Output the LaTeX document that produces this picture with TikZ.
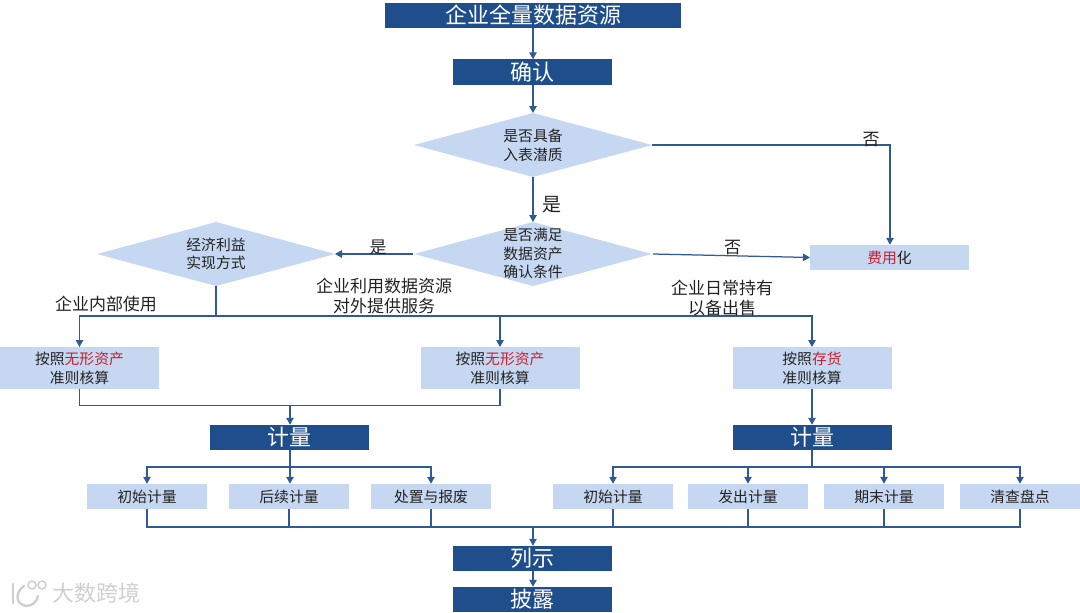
\documentclass[tikz,border=0pt]{standalone}
\usepackage{fontspec}
\setmainfont{Noto Sans CJK SC}
\usetikzlibrary{shapes.geometric,arrows.meta}
\definecolor{navy}{HTML}{1F4E8C}
\definecolor{pale}{HTML}{C6D8F1}
\definecolor{wire}{HTML}{2F5A96}
\definecolor{redtxt}{HTML}{C8202F}
\definecolor{ink}{HTML}{222222}
\definecolor{mark}{HTML}{CFCFCF}
\newcommand{\rd}[1]{\textcolor{redtxt}{#1}}
\tikzset{
  x=1pt,y=-1pt,
  darkbox/.style={rectangle,fill=navy,text=white,inner sep=0pt,outer sep=0pt,minimum width=159pt,minimum height=25.5pt,font=\fontsize{22}{24}\selectfont},
  palebox/.style={rectangle,fill=pale,text=ink,inner sep=0pt,outer sep=0pt,minimum width=159pt,minimum height=42pt,align=center,font=\fontsize{14.8}{19}\selectfont},
  smallbox/.style={rectangle,fill=pale,text=ink,inner sep=0pt,outer sep=0pt,minimum width=120pt,minimum height=25.5pt,font=\fontsize{14.8}{18}\selectfont},
  dia/.style={diamond,fill=pale,inner sep=0pt,outer sep=0pt,minimum width=238pt,minimum height=64pt},
  diatext/.style={inner sep=0pt,text=ink,align=center,font=\fontsize{14.8}{18.5}\selectfont},
  lab/.style={inner sep=0pt,text=ink,align=center,font=\fontsize{17}{20}\selectfont},
  wireline/.style={draw=wire,line width=1.25pt},
  arrowline/.style={wireline,-{Triangle[length=7pt,width=7.5pt]}},
}
\begin{document}
\begin{tikzpicture}
\useasboundingbox (0,0) rectangle (1080,613);
% watermark
\begin{scope}[draw=mark,line width=2.4pt,line cap=round]
  \draw (13,584) -- (13,603);
  \draw (24,586) .. controls (15,592) and (15,604) .. (26,606) .. controls (33,606) and (37,601) .. (38,596);
  \draw[line width=1.5pt] (32,585) circle[radius=4];
  \draw[line width=1.5pt] (42,585) circle[radius=4];
\end{scope}
\node[inner sep=0pt,text=mark,font=\fontsize{22}{24}\selectfont] (wm) at (96.5,593) {大数跨境};
% boxes
\node[darkbox,minimum width=296pt] (top) at (533,15.5) {企业全量数据资源};
\node[darkbox] (confirm) at (532.5,72) {确认};
\node[dia] (d1) at (533,145) {};
\node[diatext] (d1t) at (533,145.5) {是否具备\\入表潜质};
\node[dia] (d2) at (533,254) {};
\node[diatext] (d2t) at (533,253.5) {是否满足\\数据资产\\确认条件};
\node[dia] (d3) at (216,254) {};
\node[diatext] (d3t) at (216,254) {经济利益\\实现方式};
\node[smallbox,minimum width=159pt] (fee) at (889.5,257.5) {\rd{费用}化};
\node[palebox] (a1) at (79.5,368) {按照\rd{无形资产}\\准则核算};
\node[palebox] (a2) at (500,368) {按照\rd{无形资产}\\准则核算};
\node[palebox] (a3) at (812,368) {按照\rd{存货}\\准则核算};
\node[darkbox] (m1) at (289.5,437.5) {计量};
\node[darkbox] (m2) at (812,437.5) {计量};
\node[smallbox] (s1) at (147,496.5) {初始计量};
\node[smallbox] (s2) at (289,496.5) {后续计量};
\node[smallbox] (s3) at (431,496.5) {处置与报废};
\node[smallbox] (s4) at (613,496.5) {初始计量};
\node[smallbox] (s5) at (748,496.5) {发出计量};
\node[smallbox] (s6) at (884,496.5) {期末计量};
\node[smallbox] (s7) at (1020,496.5) {清查盘点};
\node[darkbox] (list) at (532.5,558.5) {列示};
\node[darkbox] (disc) at (532.5,599.5) {披露};
% junctions
\coordinate (busA) at (216,316);
\coordinate (busB) at (290,405.5);
\coordinate (busC) at (290,467);
\coordinate (busD) at (812,467);
\coordinate (busE) at (533,527);
\coordinate (corner) at (890,145);
% connectors
\draw[arrowline] (top.south -| busE) -- (confirm.north -| busE);
\draw[arrowline] (confirm.south -| busE) -- (d1.north);
\draw[arrowline] (d1) -- (d2);
\draw[arrowline] (d1.east) -- (corner) -- (fee.north -| corner);
\draw[arrowline] (d2.west) ++(-1,0) -- (d3.east);
\draw[arrowline] (d2.east) ++(1,0) -- (fee.west);
\draw[wireline] (d3.south) -- (busA);
\draw[arrowline] (busA) -| (a1.north);
\draw[arrowline] (busA) -| (a2.north);
\draw[arrowline] (busA) -| (a3.north);
\draw[wireline] (a1.south) |- (busB);
\draw[wireline] (a2.south) |- (busB);
\draw[arrowline] (busB) -- (m1.north -| busB);
\draw[arrowline] (a3) -- (m2);
\draw[wireline] (m1.south -| busC) -- (busC);
\draw[wireline] (m2.south) -- (busD);
\draw[arrowline] (busC) -| (s1.north);
\draw[arrowline] (busC) -- (s2.north -| busC);
\draw[arrowline] (busC) -| (s3.north);
\draw[arrowline] (busD) -| (s4.north);
\draw[arrowline] (busD) -| (s5.north);
\draw[arrowline] (busD) -| (s6.north);
\draw[arrowline] (busD) -| (s7.north);
\foreach \n in {s1,s2,s3,s4,s5,s6,s7}{\draw[wireline] (\n.south) |- (busE);}
\draw[arrowline] (busE) -- (list.north -| busE);
\draw[arrowline] (list.south -| busE) -- (disc.north -| busE);
% labels
\node[lab] (l1) at (552,204.5) {\fontsize{19}{22}\selectfont 是};
\node[lab] (l2) at (871,139.5) {否};
\node[lab] (l3) at (378,247) {是};
\node[lab] (l4) at (732.5,247.5) {否};
\node[lab] (l5) at (106,304) {企业内部使用};
\node[lab] (l6) at (384,296) {企业利用数据资源\\对外提供服务};
\node[lab] (l7) at (722,298) {企业日常持有\\以备出售};
\end{tikzpicture}
\end{document}
